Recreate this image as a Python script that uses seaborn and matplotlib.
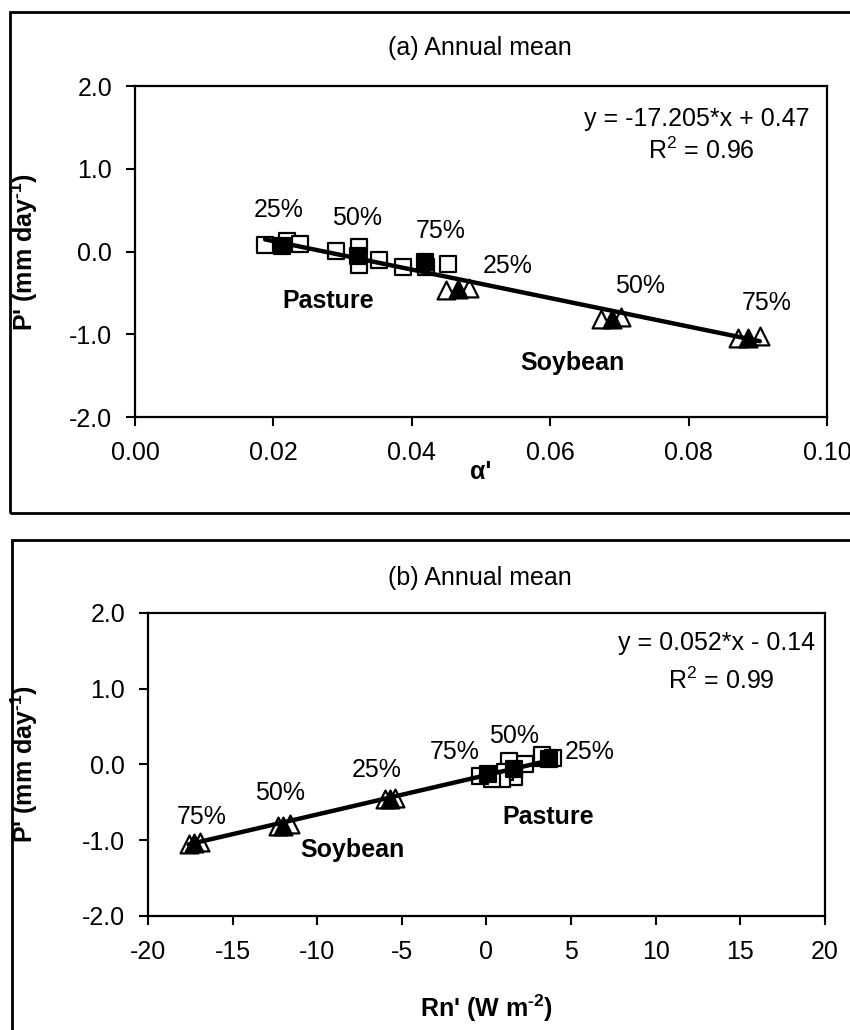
import matplotlib
matplotlib.use("Agg")
import matplotlib.pyplot as plt
from matplotlib.patches import Rectangle
from matplotlib.ticker import FormatStrFormatter
import numpy as np
import pandas as pd
import seaborn as sns

# ---- data -------------------------------------------------------------
# Pasture points (25%, 50%, 75% groups); one filled marker per group
pasture_alpha = [0.0188, 0.0212, 0.0219, 0.0238,
                 0.0291, 0.0324, 0.0323, 0.0324, 0.0352,
                 0.0387, 0.0419, 0.0421, 0.0453]
pasture_rn = [3.3, 3.7, 3.3, 3.95,
              2.3, 1.3, 1.6, 1.6, 1.1,
              0.9, 0.1, 0.3, -0.4]
pasture_p = [0.08, 0.07, 0.13, 0.09,
             0.01, 0.05, -0.06, -0.16, -0.10,
             -0.19, -0.13, -0.19, -0.15]
pasture_filled = [False, True, False, False,
                  False, False, True, False, False,
                  False, True, False, False]

# Soybean points (25%, 50%, 75% groups)
soy_alpha = [0.0450, 0.0467, 0.0483,
             0.0674, 0.0689, 0.0703,
             0.0872, 0.0886, 0.0903]
soy_rn = [-6.0, -5.7, -5.4,
          -12.3, -12.0, -11.6,
          -17.6, -17.3, -16.9]
soy_p = [-0.46, -0.45, -0.44,
         -0.81, -0.81, -0.79,
         -1.05, -1.04, -1.02]
soy_filled = [False, True, False,
              False, True, False,
              False, True, False]

# Linear fits shown on each panel
fit_slope = [-17.205, 0.052]
fit_intercept = [0.47, -0.14]
fit_r2 = [0.96, 0.99]

pct_labels = ["25%", "50%", "75%"]

# ---- style -------------------------------------------------------------
sns.set_theme(style="white")
plt.rcParams["font.family"] = ["Liberation Sans", "DejaVu Sans"]
plt.rcParams["axes.unicode_minus"] = False
plt.rcParams["mathtext.default"] = "regular"
for key in ("text.color", "axes.labelcolor", "xtick.color", "ytick.color",
            "axes.edgecolor"):
    plt.rcParams[key] = "black"
FS = 18
HY = "\u2010"  # short hyphen for superscript exponents

pasture = pd.DataFrame({"alpha": pasture_alpha, "rn": pasture_rn,
                        "p": pasture_p, "filled": pasture_filled})
soy = pd.DataFrame({"alpha": soy_alpha, "rn": soy_rn,
                    "p": soy_p, "filled": soy_filled})

fig = plt.figure(figsize=(8.5, 10.3), dpi=100)
ax_a = fig.add_axes([0.1588, 0.5951, 0.8141, 0.3214])
ax_b = fig.add_axes([0.1741, 0.1107, 0.7965, 0.2942])

# panel frames
fig.patches.append(Rectangle((10 / 850, 1 - 513 / 1030), 1.2, 501 / 1030,
                             transform=fig.transFigure, fill=False,
                             edgecolor="black", linewidth=2.0, zorder=0))
fig.patches.append(Rectangle((12 / 850, -0.2), 1.2, 0.2 + 1 - 540 / 1030,
                             transform=fig.transFigure, fill=False,
                             edgecolor="black", linewidth=2.0, zorder=0))


def draw_points(ax, xcol):
    for df, marker, size in ((pasture, "s", 145), (soy, "^", 165)):
        for filled, face in ((False, "white"), (True, "black")):
            sub = df[df["filled"] == filled]
            sns.scatterplot(data=sub, x=xcol, y="p", ax=ax, marker=marker,
                            s=size, color=face, edgecolor="black",
                            linewidth=1.6, zorder=3, legend=False)


def draw_fit(ax, xvals, k):
    xs = np.array([min(xvals), max(xvals)])
    ys = fit_slope[k] * xs + fit_intercept[k]
    sns.lineplot(x=xs, y=ys, ax=ax, color="black", linewidth=3.2,
                 zorder=4, legend=False)


def style_axes(ax, xlim, xticks, xfmt, xlabel, ylab_x, xlab_y):
    ax.set_xlim(*xlim)
    ax.set_ylim(-2.0, 2.0)
    ax.set_xticks(xticks)
    ax.set_yticks([-2.0, -1.0, 0.0, 1.0, 2.0])
    ax.xaxis.set_major_formatter(FormatStrFormatter(xfmt))
    ax.yaxis.set_major_formatter(FormatStrFormatter("%.1f"))
    ax.tick_params(axis="both", direction="out", length=6.5, width=1.5,
                   labelsize=FS, color="black", labelcolor="black")
    ax.tick_params(axis="x", pad=11, bottom=True)
    ax.tick_params(axis="y", pad=10, left=True)
    for sp in ax.spines.values():
        sp.set_visible(True)
        sp.set_color("black")
        sp.set_linewidth(1.6)
    ax.set_xlabel(xlabel, fontsize=FS, fontweight="bold")
    ax.set_ylabel(f"P' (mm day$^{{{HY}1}}$)", fontsize=FS, fontweight="bold")
    ax.yaxis.set_label_coords(ylab_x, 0.5)
    ax.xaxis.set_label_coords(0.5, xlab_y)
    ax.set_facecolor("white")


# ---- panel (a) ---------------------------------------------------------
draw_points(ax_a, "alpha")
draw_fit(ax_a, pasture_alpha + soy_alpha, 0)
style_axes(ax_a, (0.0, 0.10), np.arange(0, 0.101, 0.02), "%.2f", "α'",
           -0.137, -0.13)

a_pasture_pos = [(0.0208, 0.50), (0.0321, 0.40), (0.0442, 0.25)]
a_soy_pos = [(0.0539, -0.17), (0.0730, -0.42), (0.0913, -0.62)]
for lab, (x, y) in zip(pct_labels, a_pasture_pos):
    ax_a.text(x, y, lab, fontsize=FS, ha="center", va="center")
for lab, (x, y) in zip(pct_labels, a_soy_pos):
    ax_a.text(x, y, lab, fontsize=FS, ha="center", va="center")
ax_a.text(0.0279, -0.60, "Pasture", fontsize=FS, fontweight="bold",
          ha="center", va="center")
ax_a.text(0.0632, -1.35, "Soybean", fontsize=FS, fontweight="bold",
          ha="center", va="center")
ax_a.text(0.0812, 1.60, f"y = {fit_slope[0]:.3f}*x + {fit_intercept[0]:.2f}",
          fontsize=FS, ha="center", va="center")
ax_a.text(0.0818, 1.22, f"R$^2$ = {fit_r2[0]:.2f}", fontsize=FS,
          ha="center", va="center")

# ---- panel (b) ---------------------------------------------------------
draw_points(ax_b, "rn")
draw_fit(ax_b, pasture_rn + soy_rn, 1)
style_axes(ax_b, (-20, 20), np.arange(-20, 21, 5), "%d",
           f"Rn' (W m$^{{{HY}2}}$)", -0.16, -0.254)

b_pasture_pos = [(6.1, 0.17), (1.6, 0.37), (-1.9, 0.17)]
b_soy_pos = [(-6.5, -0.07), (-12.2, -0.38), (-16.8, -0.69)]
for lab, (x, y) in zip(pct_labels, b_pasture_pos):
    ax_b.text(x, y, lab, fontsize=FS, ha="center", va="center")
for lab, (x, y) in zip(pct_labels, b_soy_pos):
    ax_b.text(x, y, lab, fontsize=FS, ha="center", va="center")
ax_b.text(3.65, -0.69, "Pasture", fontsize=FS, fontweight="bold",
          ha="center", va="center")
ax_b.text(-7.9, -1.13, "Soybean", fontsize=FS, fontweight="bold",
          ha="center", va="center")
ax_b.text(13.6, 1.60, f"y = {fit_slope[1]:.3f}*x - {abs(fit_intercept[1]):.2f}",
          fontsize=FS, ha="center", va="center")
ax_b.text(13.9, 1.11, f"R$^2$ = {fit_r2[1]:.2f}", fontsize=FS,
          ha="center", va="center")

# panel titles
fig.text(480 / 850, 1 - 48 / 1030, "(a) Annual mean", fontsize=FS,
         ha="center", va="center")
fig.text(480 / 850, 1 - 578 / 1030, "(b) Annual mean", fontsize=FS,
         ha="center", va="center")

fig.savefig("out.png", dpi=100, facecolor="white")
